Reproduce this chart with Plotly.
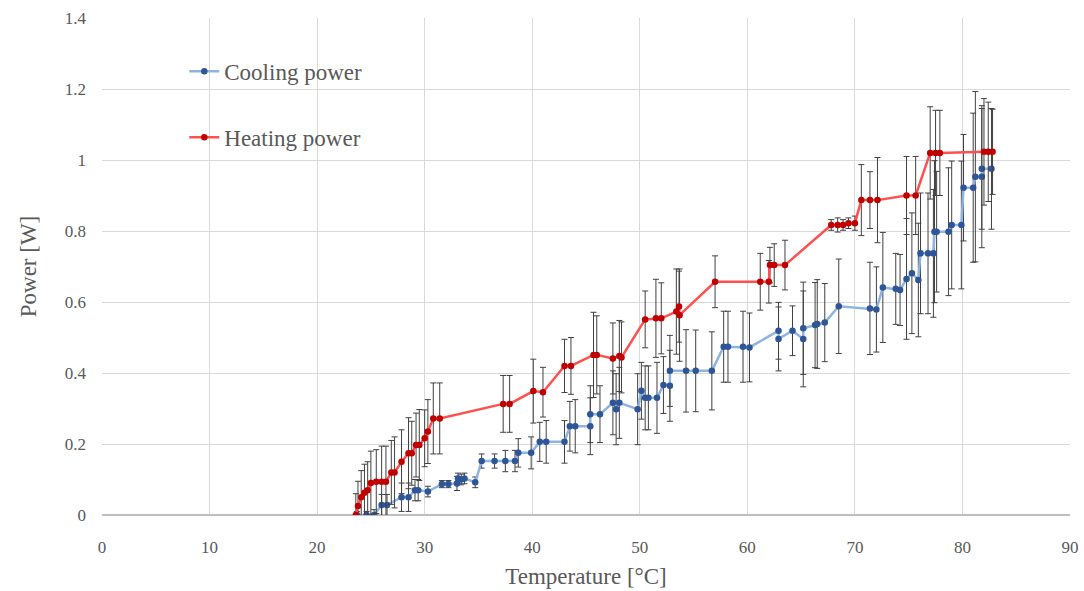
import plotly.graph_objects as go

# Heating power
heat_x = [23.6, 23.8, 24.1, 24.4, 24.7, 25.0, 25.5, 26.0, 26.4, 26.9, 27.2, 27.85, 28.5, 28.8, 29.2, 29.5,
          30.0, 30.3, 30.8, 31.4, 37.3, 37.9, 40.1, 41.0, 43.0, 43.6, 45.7, 46.0, 47.5, 48.1, 48.3,
          50.5, 51.5, 52.0, 53.4, 53.65, 53.7, 57.0, 61.2, 62.0, 62.1, 62.5, 63.5, 67.8, 68.4, 68.9,
          69.4, 70.0, 70.6, 71.4, 72.1, 74.8, 75.65, 77.0, 77.5, 77.9, 82.0, 82.4, 82.8]
heat_y = [0.0, 0.025, 0.05, 0.063, 0.07, 0.09, 0.094, 0.094, 0.094, 0.12, 0.12, 0.15, 0.174, 0.174, 0.197, 0.197,
          0.216, 0.235, 0.272, 0.272, 0.313, 0.313, 0.349, 0.346, 0.42, 0.42, 0.451, 0.451, 0.441, 0.448, 0.444,
          0.551, 0.554, 0.554, 0.573, 0.587, 0.563, 0.657, 0.657, 0.657, 0.704, 0.704, 0.704, 0.817, 0.817, 0.817,
          0.822, 0.822, 0.887, 0.887, 0.887, 0.9, 0.9, 1.02, 1.02, 1.02, 1.023, 1.023, 1.023]
heat_err = [0.06, 0.07, 0.075, 0.08, 0.08, 0.09, 0.09, 0.1, 0.1, 0.09, 0.1, 0.09, 0.1, 0.09, 0.09, 0.1,
            0.08, 0.09, 0.1, 0.1, 0.08, 0.08, 0.09, 0.07, 0.075, 0.08, 0.12, 0.11, 0.1, 0.1, 0.1,
            0.08, 0.11, 0.1, 0.12, 0.1, 0.13, 0.073, 0.08, 0.06, 0.05, 0.06, 0.07, 0.015, 0.02, 0.015,
            0.015, 0.02, 0.1, 0.08, 0.12, 0.11, 0.11, 0.13, 0.12, 0.12, 0.15, 0.14, 0.12]

# Cooling power
cool_x = [23.7, 24.6, 25.3, 26.0, 26.5, 27.85, 28.5, 29.1, 29.4, 30.3, 31.6, 32.2, 33.0, 33.1, 33.4, 33.7,
          34.7, 35.3, 36.5, 37.5, 38.4, 38.7, 39.9, 40.7, 41.3, 43.0, 43.5, 44.0, 45.4, 45.4, 46.3,
          47.5, 47.8, 48.1, 49.8, 50.15, 50.5, 50.8, 51.6, 52.2, 52.8, 52.8, 54.3, 55.2, 56.7, 57.8,
          58.2, 59.6, 60.2, 62.9, 62.9, 64.2, 65.2, 65.2, 66.3, 66.5, 67.2, 68.5, 71.4, 72.0, 72.6,
          73.8, 74.2, 74.8, 75.3, 75.9, 76.1, 76.8, 77.3, 77.4, 77.6, 78.7, 79.0, 79.9, 80.1, 81.0,
          81.2, 81.8, 81.8, 82.7]
cool_y = [0.0, 0.0, 0.0, 0.028, 0.028, 0.05, 0.05, 0.07, 0.07, 0.066, 0.087, 0.087, 0.089, 0.103, 0.1, 0.103,
          0.092, 0.152, 0.152, 0.152, 0.152, 0.175, 0.175, 0.206, 0.206, 0.206, 0.25, 0.25, 0.25, 0.284, 0.284,
          0.316, 0.298, 0.316, 0.298, 0.35, 0.33, 0.33, 0.33, 0.366, 0.364, 0.406, 0.406, 0.406, 0.406, 0.474,
          0.474, 0.474, 0.472, 0.519, 0.496, 0.519, 0.496, 0.526, 0.535, 0.538, 0.542, 0.588, 0.582, 0.579, 0.641,
          0.637, 0.634, 0.665, 0.681, 0.662, 0.737, 0.737, 0.737, 0.798, 0.798, 0.798, 0.817, 0.817, 0.922, 0.922,
          0.953, 0.953, 0.975, 0.975]
cool_err = [0.01, 0.01, 0.015, 0.03, 0.03, 0.04, 0.04, 0.03, 0.03, 0.015, 0.01, 0.01, 0.02, 0.015, 0.015, 0.015,
            0.015, 0.02, 0.02, 0.03, 0.03, 0.04, 0.045, 0.055, 0.06, 0.06, 0.07, 0.075, 0.08, 0.08, 0.08,
            0.09, 0.1, 0.1, 0.1, 0.08, 0.09, 0.09, 0.1, 0.08, 0.1, 0.1, 0.116, 0.115, 0.11, 0.1,
            0.1, 0.1, 0.097, 0.08, 0.09, 0.07, 0.135, 0.13, 0.12, 0.125, 0.11, 0.133, 0.13, 0.12, 0.155,
            0.1, 0.1, 0.17, 0.17, 0.16, 0.17, 0.17, 0.18, 0.2, 0.17, 0.18, 0.18, 0.18, 0.15, 0.21,
            0.24, 0.2, 0.17, 0.17]

FONT = "Liberation Serif"
TXT = "#595959"
GRID = "#D9D9D9"

fig = go.Figure()
fig.add_trace(go.Scatter(
    x=cool_x, y=cool_y, mode="lines+markers", name="Cooling power",
    line=dict(color="#8EB4E3", width=2.5),
    marker=dict(color="#2E5597", size=6.5),
    error_y=dict(type="data", array=cool_err, visible=True, color="#404040", thickness=1, width=3),
    legendgroup="c",
))
fig.add_trace(go.Scatter(
    x=heat_x, y=heat_y, mode="lines+markers", name="Heating power",
    line=dict(color="#FF5050", width=2.5),
    marker=dict(color="#C00000", size=6.5),
    error_y=dict(type="data", array=heat_err, visible=True, color="#404040", thickness=1, width=3),
    legendgroup="h",
))

fig.update_layout(
    width=1084, height=591,
    margin=dict(l=102, r=14, t=18, b=76),
    paper_bgcolor="white", plot_bgcolor="white",
    font=dict(family=FONT, color=TXT, size=17),
    showlegend=True,
    legend=dict(
        x=0.085, y=0.936, xanchor="left", yanchor="top",
        bgcolor="rgba(0,0,0,0)", font=dict(size=23, color=TXT, family=FONT),
        tracegroupgap=33, traceorder="grouped", itemwidth=30,
    ),
    xaxis=dict(
        range=[0, 90], dtick=10, tick0=0, showgrid=True, gridcolor=GRID, gridwidth=1,
        zeroline=False, showline=False, ticks="", ticklabelstandoff=20, automargin=False,
        title=dict(text="Temperature [°C]", font=dict(size=23, color=TXT, family=FONT), standoff=11),
        tickfont=dict(size=17, color=TXT, family=FONT),
    ),
    yaxis=dict(
        range=[0, 1.4], dtick=0.2, tick0=0, showgrid=True, gridcolor=GRID, gridwidth=1,
        zeroline=True, zerolinecolor="#BFBFBF", zerolinewidth=2, showline=False, ticks="",
        ticklabelstandoff=15, automargin=False,
        title=dict(text="Power [W]", font=dict(size=23, color=TXT, family=FONT), standoff=21),
        tickfont=dict(size=17, color=TXT, family=FONT),
        tickformat="~g",
    ),
)

fig.write_html("out.html")
